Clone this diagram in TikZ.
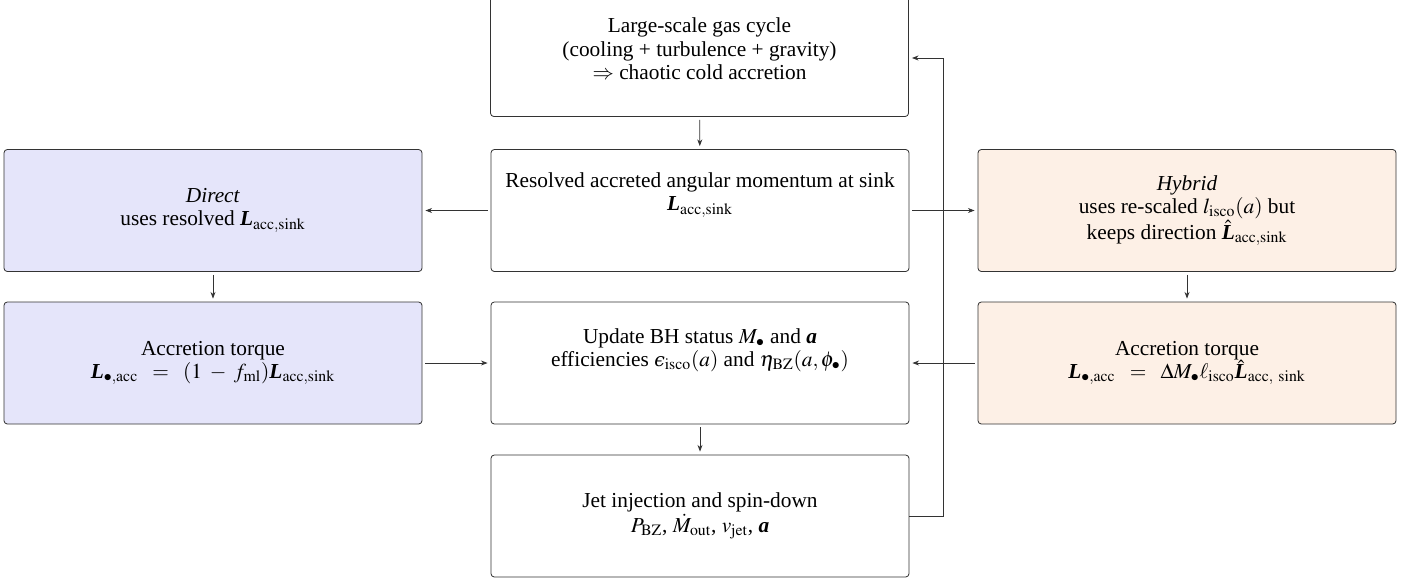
\documentclass[tikz,border=0pt]{standalone}
\usepackage{mathptmx}
\usepackage{fontspec}
\setmainfont{Liberation Serif}
\newfontfamily\dvs{DejaVu Serif}[Scale=0.88]
\usetikzlibrary{arrows.meta}
\newcommand{\bv}[1]{\mbox{\textbf{\textit{#1}}}}
\newcommand{\rmsub}[1]{\mathrm{#1}}
\newcommand{\lunate}{\mbox{\dvs\itshape ϵ}}
\newcommand{\raisedtext}[2]{\raisebox{#1}[\height][\depth]{\begin{tabular}{@{}c@{}}#2\end{tabular}}}
\definecolor{lav}{RGB}{229,229,250}
\definecolor{peach}{RGB}{253,240,230}
\tikzset{
  box/.style={draw=black!80, line width=0.5pt, rounded corners=2pt, minimum width=250.8pt, minimum height=73.2pt, align=center, font=\fontsize{12.8}{14}\selectfont, inner sep=2pt},
  arr/.style={-{Stealth[length=4pt,width=3pt]}, draw=black!80, line width=0.5pt, shorten >=1.8pt, shorten <=1.8pt}
}
\begin{document}
\begin{tikzpicture}[x=0.6pt,y=-0.6pt]
\useasboundingbox (0,0) rectangle (1418,582);
\node[box] (gas) at (699.5,55.5) {\raisedtext{2.4pt}{Large-scale gas cycle\\(cooling + turbulence + gravity)\\$\Rightarrow$ chaotic cold accretion}};
\node[box] (res) at (700,210.5) {\raisedtext{9.6pt}{Resolved accreted angular momentum at sink\\$\bv{L}_{\rmsub{acc,sink}}$}};
\node[box, fill=lav] (dir) at (213,210.5) {\textit{Direct}\\uses resolved $\bv{L}_{\rmsub{acc,sink}}$};
\node[box, fill=peach] (hyb) at (1187,210.5) {\textit{Hybrid}\\uses re-scaled $l_{\rmsub{isco}}(a)$ but\\keeps direction $\hat{\bv{L}}_{\rmsub{acc,sink}}$};
\node[box, fill=lav] (tqd) at (213,363) {Accretion torque\\$\bv{L}_{\bullet,\rmsub{acc}}\;\;=\;\;(1\;-\;f_{\rmsub{ml}})\bv{L}_{\rmsub{acc,sink}}$};
\node[box] (upd) at (700,363) {\raisedtext{7.8pt}{Update BH status $M_\bullet$ and $\bv{a}$\\efficiencies $\lunate_{\rmsub{isco}}(a)$ and $\eta_{\rmsub{BZ}}(a,\phi_\bullet)$}};
\node[box, fill=peach] (tqh) at (1187,363) {Accretion torque\\$\bv{L}_{\bullet,\rmsub{acc}}\;\;=\;\;\Delta M_\bullet\ell_{\rmsub{isco}}\hat{\bv{L}}_{\rmsub{acc,\ sink}}$};
\node[box] (jet) at (700,516) {\raisedtext{0.6pt}{Jet injection and spin-down\\$P_{\rmsub{BZ}}$, $\dot M_{\rmsub{out}}$, $v_{\rmsub{jet}}$, $\bv{a}$}};
\coordinate (c1) at (943,516);
\coordinate (c2) at (943,58);
\draw[arr] (gas) -- (res);
\draw[arr] (res) -- (dir);
\draw[arr] (res) -- (hyb);
\draw[arr] (dir) -- (tqd);
\draw[arr] (hyb) -- (tqh);
\draw[arr] (tqd) -- (upd);
\draw[arr] (tqh) -- (upd);
\draw[arr] (upd) -- (jet);
\draw[arr, shorten <=0pt] (jet.east) -- (c1) -- (c2) -- (gas.east |- c2);
\end{tikzpicture}
\end{document}
